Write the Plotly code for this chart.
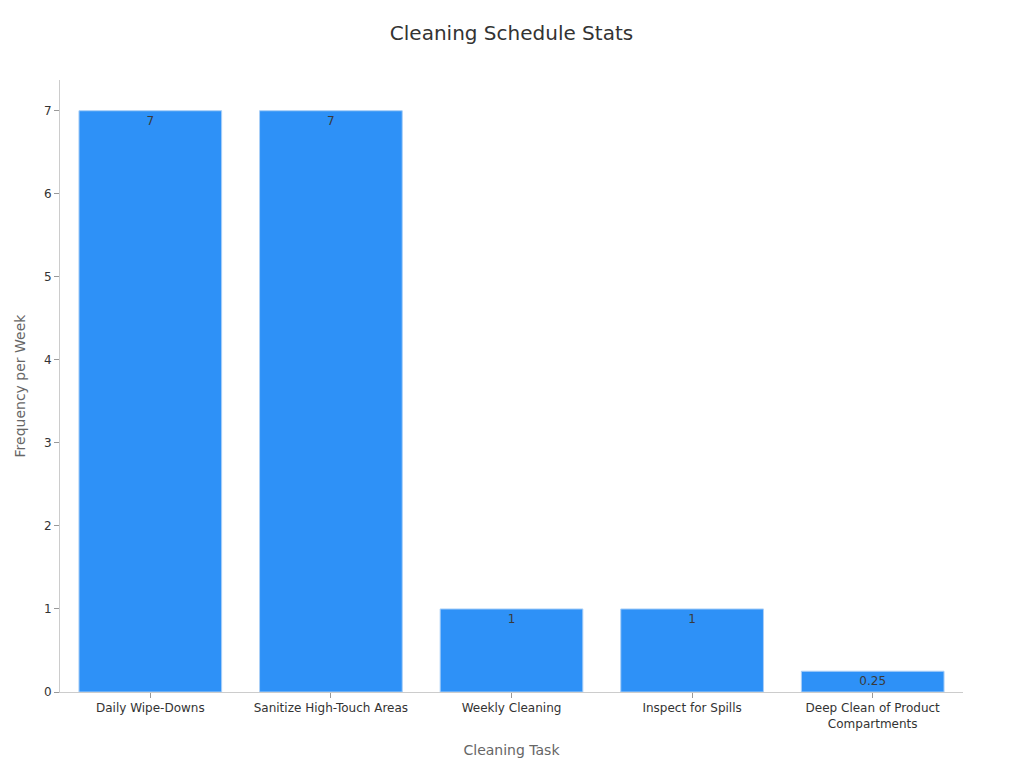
import plotly.graph_objects as go

tasks = ["Daily Wipe-Downs", "Sanitize High-Touch Areas", "Weekly Cleaning",
         "Inspect for Spills", "Deep Clean of Product<br>Compartments"]
frequency = [7, 7, 1, 1, 0.25]
labels = ["7", "7", "1", "1", "0.25"]

fig = go.Figure(go.Bar(
    x=tasks, y=frequency, text=labels, textposition="inside",
    insidetextanchor="end",
    textfont=dict(color="#3a3a3a", size=12),
    marker=dict(color="#2E91F7", line=dict(color="#A9CFF7", width=1)),
))

fig.update_layout(
    width=1024, height=768,
    font=dict(family="DejaVu Sans", color="#333333"),
    title=dict(text="Cleaning Schedule Stats", x=0.5, xanchor="center",
               xref="paper", y=0.976, font=dict(size=20, color="#333333")),
    plot_bgcolor="white", paper_bgcolor="white",
    margin=dict(l=52, r=69, t=72, b=84),
    bargap=0.21,
    showlegend=False,
)
fig.update_xaxes(
    title=dict(text="Cleaning Task", font=dict(size=14, color="#666666")),
    showline=True, linecolor="#cccccc", ticks="outside", tickcolor="#999999",
    ticklen=5, tickfont=dict(size=12, color="#333333"), showgrid=False,
)
fig.update_yaxes(
    title=dict(text="Frequency per Week", font=dict(size=14, color="#666666")),
    range=[0, 7.37], dtick=1, showline=True, linecolor="#cccccc",
    ticks="outside", tickcolor="#999999", ticklen=5,
    tickfont=dict(size=12, color="#333333"), showgrid=False, zeroline=False,
)

fig.write_html("out.html")
